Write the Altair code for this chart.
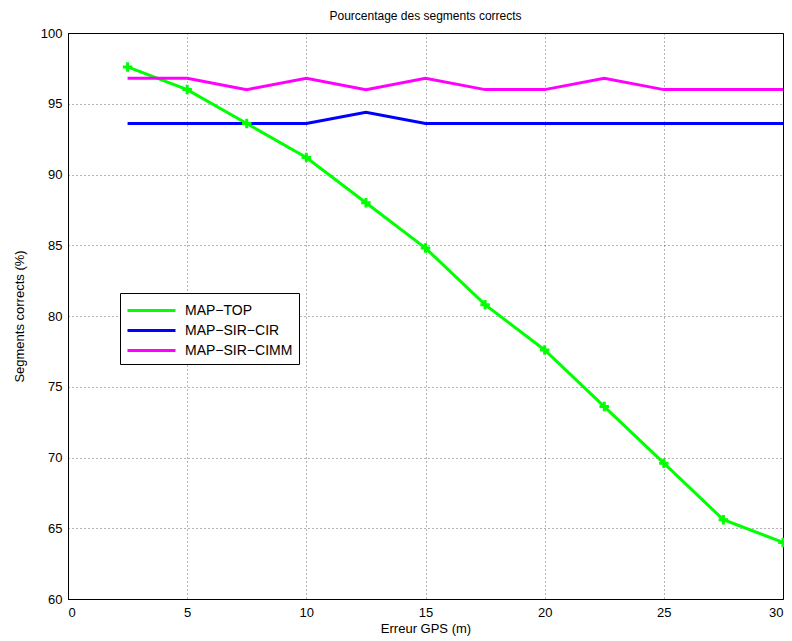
import altair as alt
import pandas as pd

x_vals = [2.5, 5, 7.5, 10, 12.5, 15, 17.5, 20, 22.5, 25, 27.5, 30]
map_top = [97.6, 96.0, 93.6, 91.2, 88.0, 84.8, 80.8, 77.6, 73.6, 69.6, 65.6, 64.0]
map_sir_cir = [93.6, 93.6, 93.6, 93.6, 94.4, 93.6, 93.6, 93.6, 93.6, 93.6, 93.6, 93.6]
map_sir_cimm = [96.8, 96.8, 96.0, 96.8, 96.0, 96.8, 96.0, 96.0, 96.8, 96.0, 96.0, 96.0]

series_names = ["MAP\u2212TOP", "MAP\u2212SIR\u2212CIR", "MAP\u2212SIR\u2212CIMM"]
series_colors = ["#00ff00", "#0000ff", "#ff00ff"]
x_ticks = [0, 5, 10, 15, 20, 25, 30]
y_ticks = [60, 65, 70, 75, 80, 85, 90, 95, 100]

rows = []
for name, vals in zip(series_names, [map_top, map_sir_cir, map_sir_cimm]):
    for i, (xv, yv) in enumerate(zip(x_vals, vals)):
        rows.append({"x": xv, "y": yv, "serie": name, "order": i})
df = pd.DataFrame(rows)

FONT = "Liberation Sans"

axis_common = dict(grid=True, gridDash=[1, 3], gridColor="#000000", gridOpacity=0.6,
                   domainColor="#000000", tickSize=0,
                   labelFontSize=13, titleFontSize=13, titleFontWeight="normal",
                   labelFont=FONT, titleFont=FONT, labelColor="#000000", titleColor="#000000")

xenc = alt.X("x:Q", scale=alt.Scale(domain=[0, 30], nice=False),
             axis=alt.Axis(values=x_ticks, title="Erreur GPS (m)", labelPadding=7,
                           titlePadding=3, **axis_common))
yenc = alt.Y("y:Q", scale=alt.Scale(domain=[60, 100], nice=False),
             axis=alt.Axis(values=y_ticks, title="Segments corrects (%)", labelPadding=6,
                           titlePadding=14, **axis_common))

color = alt.Color("serie:N", scale=alt.Scale(domain=series_names, range=series_colors),
                  legend=alt.Legend(title=None, orient="none", legendX=52, legendY=260,
                                    symbolType="M-1,0L3.8,0", symbolStrokeWidth=3, symbolSize=400,
                                    labelFontSize=14, labelFont=FONT, labelColor="#000000",
                                    strokeColor="#000000", fillColor="#ffffff",
                                    padding=6, rowPadding=1, labelOffset=36))

lines = alt.Chart(df).mark_line(strokeWidth=3).encode(
    x=xenc, y=yenc, color=color, order="order:Q", detail="serie:N")

points = alt.Chart(df).transform_filter(
    alt.datum.serie == series_names[0]
).mark_point(shape="M-1,0L1,0M0,-1L0,1", filled=False, size=90, strokeWidth=3, opacity=1).encode(
    x="x:Q", y="y:Q", color=alt.Color("serie:N", scale=alt.Scale(domain=series_names, range=series_colors), legend=None))

chart = (lines + points).properties(
    width=715, height=566,
    title=alt.TitleParams("Pourcentage des segments corrects", fontSize=12, fontWeight="normal",
                          font=FONT, color="#000000", offset=4),
    padding={"left": 60, "top": 25, "right": 1, "bottom": 40},
    autosize="none",
).configure_view(stroke="#000000", strokeWidth=1)

chart.save("out.html", embed_options={"renderer": "svg", "actions": False})
